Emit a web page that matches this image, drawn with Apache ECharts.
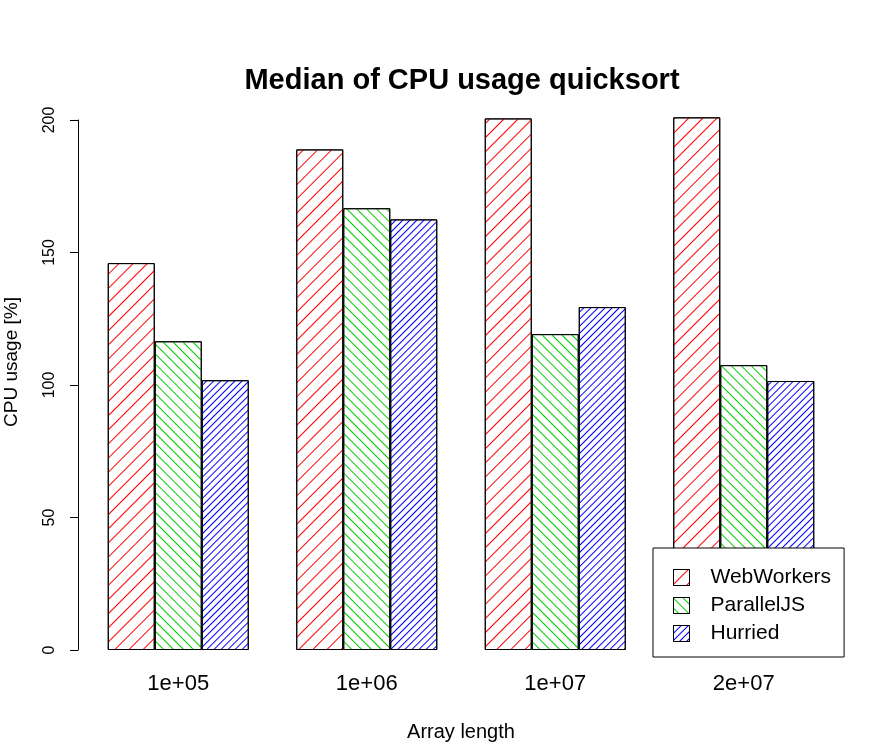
<!DOCTYPE html>
<html>
<head>
<meta charset="utf-8">
<script src="https://cdn.jsdelivr.net/npm/echarts@6/dist/echarts.min.js"></script>
<style>html,body{margin:0;padding:0;background:#fff}#c{width:886px;height:754px}</style>
</head>
<body>
<div id="c"></div>
<script>
var categories = ['1e+05', '1e+06', '1e+07', '2e+07'];
var webWorkers = [146.0, 188.9, 200.6, 201.0];
var parallelJS = [116.5, 166.7, 119.2, 107.5];
var hurried = [101.8, 162.5, 129.4, 101.5];
var yTicks = [0, 50, 100, 150, 200];

var FONT = 'Liberation Sans, Arial, sans-serif';
function hatch(color, rot, gap) {
  return { color: '#ffffff', borderColor: '#000', borderWidth: 1,
    decal: { symbol: 'rect', symbolSize: 1, color: color, dashArrayX: [1, 0], dashArrayY: [1, gap], rotation: rot } };
}
var chart = echarts.init(document.getElementById('c'));
chart.setOption({
  animation: false,
  backgroundColor: '#fff',
  title: { text: 'Median of CPU usage quicksort', left: 457, textAlign: 'center', top: 61,
    textStyle: { fontFamily: FONT, fontSize: 29, fontWeight: 'bold', color: '#000' } },
  grid: { left: 84, right: 48, top: 120, bottom: 104, containLabel: false, outerBoundsMode: 'none' },
  legend: {
    orient: 'vertical', left: 653, top: 548,
    backgroundColor: '#fff', borderColor: '#000', borderWidth: 1, borderRadius: 0,
    padding: [19, 13, 13, 20], itemGap: 7, itemWidth: 16, itemHeight: 16, icon: 'rect',
    itemStyle: { borderWidth: 1, borderColor: '#000' },
    textStyle: { fontFamily: FONT, fontSize: 21, color: '#000', padding: [0, 0, 0, 16], lineHeight: 20 },
    data: ['WebWorkers', 'ParallelJS', 'Hurried']
  },
  graphic: [
    { type: 'text', x: 12, y: 362, rotation: Math.PI / 2,
      style: { text: 'CPU usage [%]', font: '19px ' + FONT, fill: '#000', textAlign: 'center', textVerticalAlign: 'middle' } }
  ],
  xAxis: {
    type: 'category', data: categories,
    axisLine: { show: false }, axisTick: { show: false },
    axisLabel: { fontFamily: FONT, fontSize: 22, color: '#000', margin: 23 },
    name: 'Array length', nameLocation: 'middle', nameGap: 72,
    nameTextStyle: { fontFamily: FONT, fontSize: 20, color: '#000' }
  },
  yAxis: {
    type: 'value', min: 0, max: 200, interval: 50, offset: 6,
    axisLine: { show: true, lineStyle: { color: '#000', width: 1 } },
    axisTick: { show: true, length: 8, lineStyle: { color: '#000' } },
    splitLine: { show: false },
    axisLabel: { fontFamily: FONT, fontSize: 16, color: '#000', rotate: 90, margin: 20,
      formatter: function (v) { return yTicks.indexOf(v) >= 0 ? String(v) : ''; } }
  },
  series: [
    { name: 'WebWorkers', type: 'bar', data: webWorkers, barWidth: 47, barGap: '0%', clip: false,
      itemStyle: hatch('#ff0000', -Math.PI / 4, 8.5) },
    { name: 'ParallelJS', type: 'bar', data: parallelJS, barWidth: 47, barGap: '0%', clip: false,
      itemStyle: hatch('#00cc00', Math.PI / 4, 5.4) },
    { name: 'Hurried', type: 'bar', data: hurried, barWidth: 47, barGap: '0%', clip: false,
      itemStyle: hatch('#0000ff', -Math.PI / 4, 3.2) }
  ]
});
</script>
</body>
</html>
